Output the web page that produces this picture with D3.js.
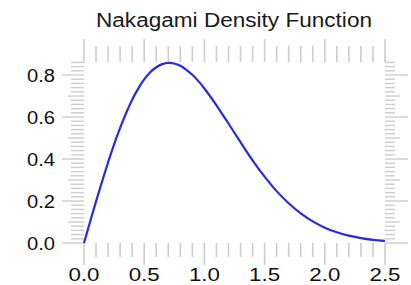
<!DOCTYPE html>
<html>
<head>
<meta charset="utf-8">
<script src="https://cdn.jsdelivr.net/npm/d3@7"></script>
<style>
  html, body { margin: 0; padding: 0; background: #fff; }
  svg { display: block; }
</style>
</head>
<body>
<svg id="chart" width="411" height="285"></svg>
<script>
// Data
const xValues = [0, 0.05, 0.1, 0.15, 0.2, 0.25, 0.3, 0.35, 0.4, 0.45, 0.5, 0.55, 0.6, 0.65, 0.7, 0.75, 0.8, 0.85, 0.9, 0.95, 1.0,
                 1.1, 1.2, 1.3, 1.4, 1.5, 1.6, 1.7, 1.8, 1.9, 2.0, 2.1, 2.2, 2.3, 2.4, 2.5];
const densityValues = [0, 0.100, 0.198, 0.293, 0.384, 0.470, 0.548, 0.619, 0.682, 0.735, 0.779, 0.813, 0.837, 0.852, 0.858, 0.855, 0.844, 0.825, 0.801, 0.771, 0.736,
                 0.656, 0.569, 0.480, 0.394, 0.316, 0.247, 0.189, 0.141, 0.103, 0.073, 0.051, 0.035, 0.023, 0.015, 0.010];
const xTickLabels = ["0.0", "0.5", "1.0", "1.5", "2.0", "2.5"];
const yTickLabels = ["0.0", "0.2", "0.4", "0.6", "0.8"];
const titleText = "Nakagami Density Function";

const svg = d3.select("#chart");
const x = d3.scaleLinear().domain([0, 2.5]).range([84, 385]);
const y = d3.scaleLinear().domain([0, 0.862]).range([243, 62]);
const tickColor = "#cdcdcd";

// title
svg.append("text")
  .attr("x", 234).attr("y", 27)
  .attr("text-anchor", "middle")
  .attr("font-family", "Liberation Sans, Arial, sans-serif")
  .attr("font-size", 20)
  .attr("fill", "#1a1a1a")
  .attr("textLength", 276).attr("lengthAdjust", "spacingAndGlyphs")
  .text(titleText);

// x ticks (0.1 spacing, major at 0.5)
const xTicks = d3.range(0, 26).map(i => i / 10);
const isMajorX = v => Math.abs(v * 2 - Math.round(v * 2)) < 1e-6;
// bottom
svg.append("g").selectAll("line").data(xTicks).join("line")
  .attr("x1", d => x(d)).attr("x2", d => x(d))
  .attr("y1", y(0)).attr("y2", d => y(0) + (isMajorX(d) ? 22 : 14))
  .attr("stroke", tickColor).attr("stroke-width", 1.6);
// top
svg.append("g").selectAll("line").data(xTicks).join("line")
  .attr("x1", d => x(d)).attr("x2", d => x(d))
  .attr("y1", y(0.862)).attr("y2", d => y(0.862) - (isMajorX(d) ? 23 : 16))
  .attr("stroke", tickColor).attr("stroke-width", 1.6);

// y ticks (0.02 spacing, mid at 0.1, major at 0.2)
const yTicks = d3.range(0, 44).map(i => i / 50);
const kindY = v => {
  const k = Math.round(v * 50);
  if (k % 10 === 0) return 2;
  if (k % 5 === 0) return 1;
  return 0;
};
const leftLen = [13, 16, 22], rightLen = [10, 15, 23];
svg.append("g").selectAll("line").data(yTicks).join("line")
  .attr("y1", d => y(d)).attr("y2", d => y(d))
  .attr("x1", x(0)).attr("x2", d => x(0) - leftLen[kindY(d)])
  .attr("stroke", tickColor).attr("stroke-width", 1.4);
svg.append("g").selectAll("line").data(yTicks).join("line")
  .attr("y1", d => y(d)).attr("y2", d => y(d))
  .attr("x1", x(2.5)).attr("x2", d => x(2.5) + rightLen[kindY(d)])
  .attr("stroke", tickColor).attr("stroke-width", 1.4);

// x labels
svg.append("g").selectAll("text").data(xTickLabels).join("text")
  .attr("x", d => x(+d)).attr("y", 280.5)
  .attr("text-anchor", "middle")
  .attr("font-family", "Liberation Sans, Arial, sans-serif")
  .attr("font-size", 18)
  .attr("fill", "#111")
  .attr("textLength", 31).attr("lengthAdjust", "spacingAndGlyphs")
  .text(d => d);

// y labels
svg.append("g").selectAll("text").data(yTickLabels).join("text")
  .attr("x", 55).attr("y", d => y(+d) + 6.5)
  .attr("text-anchor", "end")
  .attr("font-family", "Liberation Sans, Arial, sans-serif")
  .attr("font-size", 18)
  .attr("fill", "#111")
  .attr("textLength", 28).attr("lengthAdjust", "spacingAndGlyphs")
  .text(d => d);

// curve
const pts = xValues.map((v, i) => [v, densityValues[i]]);
svg.append("path")
  .datum(pts)
  .attr("d", d3.line().x(d => x(d[0])).y(d => y(d[1])).curve(d3.curveCatmullRom))
  .attr("fill", "none")
  .attr("stroke", "#2a2ae0")
  .attr("stroke-width", 2.2);
</script>
</body>
</html>
